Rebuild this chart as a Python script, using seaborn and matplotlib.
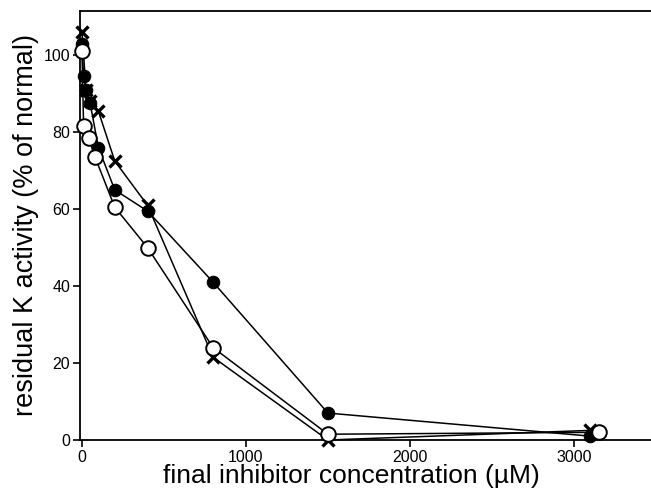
import matplotlib
matplotlib.use("Agg")
import matplotlib.pyplot as plt
import seaborn as sns
import pandas as pd

# --- data ---
filled_x = [0, 10, 25, 50, 100, 200, 400, 800, 1500, 3100]
filled_y = [103, 94.5, 91, 87.5, 76, 65, 59.5, 41, 7, 1]

open_x = [0, 10, 40, 80, 200, 400, 800, 1500, 3150]
open_y = [101, 81.5, 78.5, 73.5, 60.5, 50, 24, 1.5, 2]

cross_x = [0, 25, 50, 100, 200, 400, 800, 1500, 3100]
cross_y = [106, 91, 88, 85.5, 72.5, 61, 21.5, 0, 2.5]

x_ticks = [0, 1000, 2000, 3000]
y_ticks = [0, 20, 40, 60, 80, 100]

sns.set_theme(style="ticks")
plt.rcParams['font.family'] = ['Liberation Sans', 'DejaVu Sans']

fig = plt.figure(figsize=(6.51, 4.91), dpi=100)
ax = fig.add_axes([80/651, 1 - 440/491, 1 - 80/651, (440 - 11)/491])

df_c = pd.DataFrame({"x": cross_x, "y": cross_y})
df_f = pd.DataFrame({"x": filled_x, "y": filled_y})
df_o = pd.DataFrame({"x": open_x, "y": open_y})

common = dict(sort=False, estimator=None, color="black", linewidth=1.1,
              ax=ax, clip_on=False)
sns.lineplot(data=df_c, x="x", y="y", marker="x", markersize=8.5,
             markeredgewidth=2.4, markeredgecolor="black", zorder=3, **common)
sns.lineplot(data=df_f, x="x", y="y", marker="o", markersize=9,
             markerfacecolor="black", markeredgecolor="black", zorder=4, **common)
sns.lineplot(data=df_o, x="x", y="y", marker="o", markersize=10.5,
             markerfacecolor="white", markeredgecolor="black",
             markeredgewidth=1.4, zorder=5, **common)

ax.set_xlim(-12, 3470)
ax.set_ylim(0, 111.5)
ax.set_xticks(x_ticks)
ax.set_yticks(y_ticks)
ax.set_xticklabels([str(v) for v in x_ticks])
ax.set_yticklabels([str(v) for v in y_ticks])

for s in ["left", "bottom", "top"]:
    ax.spines[s].set_color("black")
    ax.spines[s].set_linewidth(1.3)
ax.spines["right"].set_visible(False)

ax.tick_params(axis="both", direction="out", length=5, width=1.2,
               labelsize=11.5, color="black", labelcolor="black", pad=2)
ax.set_xlabel("final inhibitor concentration (\u00b5M)", fontsize=19,
              color="black", labelpad=0)
ax.xaxis.set_label_coords((351 - 80) / 571, -0.056)
ax.set_ylabel("residual K activity (% of normal)", fontsize=19.5,
              color="black", labelpad=3)

fig.savefig("out.png", dpi=100, facecolor="white")
